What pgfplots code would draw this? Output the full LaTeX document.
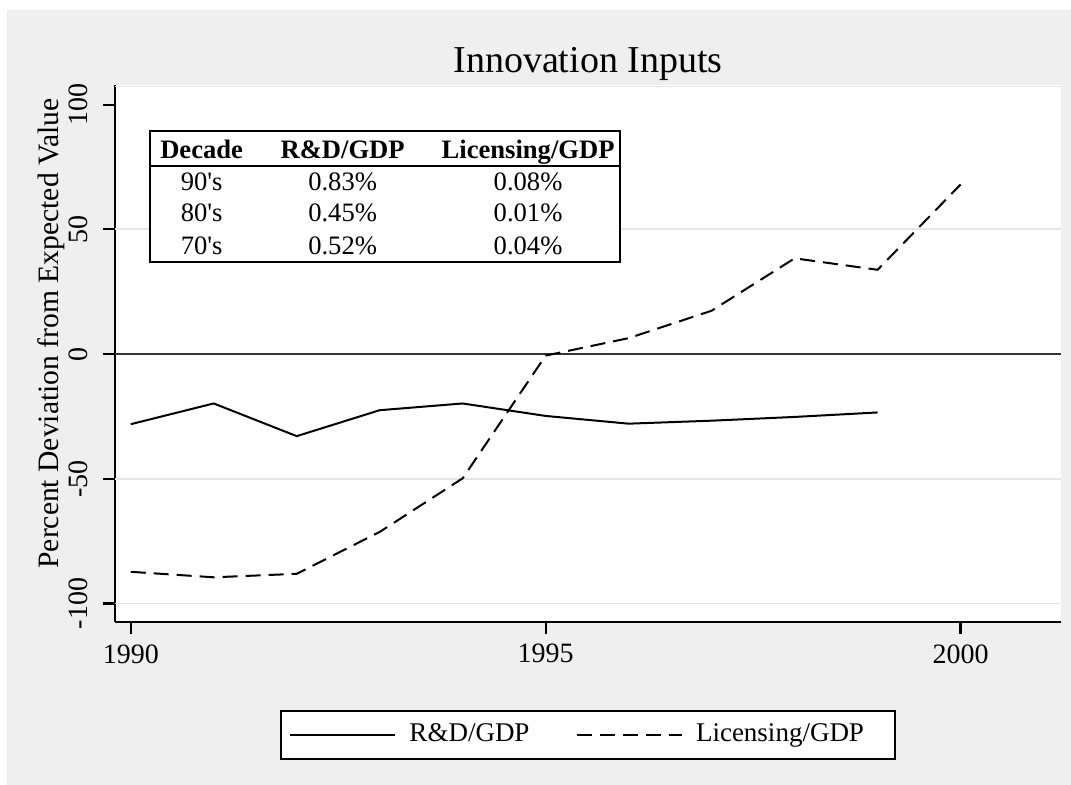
\documentclass[border=0pt]{standalone}
\usepackage{fontspec}
\setmainfont{Liberation Serif}
\usepackage{pgfplots}
\pgfplotsset{compat=1.18}
\definecolor{bggray}{HTML}{EFEFEF}
\definecolor{gridgray}{HTML}{E5E5E5}
\definecolor{zerogray}{HTML}{333333}
\begin{document}
\begin{tikzpicture}
\path[use as bounding box] (-57.5pt,-81.65pt) rectangle (478pt,310.85pt);
\fill[white] (-57.5pt,-81.65pt) rectangle (478pt,310.85pt);
\fill[bggray] (-54pt,-81.65pt) rectangle (478pt,305.85pt);
\begin{axis}[
  at={(0pt,0pt)}, anchor=south west,
  scale only axis, width=473pt, height=268.35pt,
  xmin=1989.81, xmax=2001.21, ymin=-107.3, ymax=107.9,
  axis x line*=bottom, axis y line*=left,
  axis line style={black, line width=1.1pt, -},
  axis background/.style={fill=white},
  xtick={1990,1995,2000}, xticklabels={1990,1995,2000},
  ytick={-100,-50,0,50,100}, yticklabels={-100,-50,0,50,100},
  tick align=outside, major tick length=6pt,
  tick style={black, line width=1.1pt},
  minor tick num=0,
  extra y ticks={-100,-50,50}, extra y tick labels={},
  extra y tick style={grid=major, major tick length=0pt},
  grid style={gridgray, line width=0.9pt},
  xticklabel style={font=\fontsize{14}{16}\selectfont, inner sep=0pt, anchor=north},
  yticklabel style={font=\fontsize{14}{16}\selectfont, inner sep=0pt, rotate=90, anchor=south},
  xticklabel shift=5.15pt, yticklabel shift=7.3pt,
  title={Innovation Inputs},
  title style={at={(axis description cs:0.5,1)}, anchor=base, yshift=0.3pt, font=\fontsize{19}{22}\selectfont, inner sep=0pt},
  ylabel={Percent Deviation from Expected Value},
  ylabel style={at={(axis description cs:-0.0595,0.537)}, anchor=base, font=\fontsize{14.8}{17}\selectfont, inner sep=0pt},
  legend image code/.code={\draw[#1] (0pt,0pt) -- (52.5pt,0pt);},
  legend columns=2,
  legend style={at={(axis description cs:0.5,0)}, anchor=north, yshift=-44.15pt,
    draw=black, line width=1.1pt, fill=white, inner xsep=4pt, inner ysep=5.7pt,
    font=\fontsize{13.5}{16}\selectfont,
    nodes={inner sep=0pt, text height=9.5pt, text depth=3pt},
    /tikz/every odd column/.style={column sep=6.75pt},
    /tikz/every even column/.style={column sep=23pt}},
]
\addplot[zerogray, line width=0.9pt, forget plot] coordinates {(1989.81,0) (2001.21,0)};
\addplot[black, line width=1pt, line join=round] coordinates {
(1990,-28.1) (1991,-19.8) (1992,-32.9) (1993,-22.5) (1994,-19.8)
(1995,-24.8) (1996,-27.9) (1997,-26.7) (1998,-25.2) (1999,-23.4)};
\addlegendentry{R\&D/GDP}
\addplot[black, line width=1pt, line join=round, dash pattern=on 7.5pt off 4pt] coordinates {
(1990,-87.3) (1991,-89.5) (1992,-88.1) (1993,-71.3) (1994,-49.8)
(1995,-0.6) (1996,6.4) (1997,17.4) (1998,38.4) (1999,33.8) (2000,68.0)};
\addlegendentry{Licensing/GDP\hspace*{11.5pt}}
\draw[gridgray, line width=0.8pt] (rel axis cs:0,0.997) -- (rel axis cs:1,0.997);
\fill[white] (axis cs:1990.234,89.41) rectangle (axis cs:1995.897,36.89);
\draw[line width=1.2pt] (axis cs:1990.234,89.41) rectangle (axis cs:1995.897,36.89);
\draw[line width=1.2pt] (axis cs:1990.234,75.38) -- (axis cs:1995.897,75.38);
\begin{scope}[every node/.style={anchor=base, inner sep=0pt, font=\fontsize{13.3}{15}\selectfont}]
\node at (axis cs:1990.854,78.47) {\bfseries Decade};
\node at (axis cs:1992.553,78.47) {\bfseries R\&D/GDP};
\node at (axis cs:1994.788,78.47) {\bfseries Licensing/GDP};
\node at (axis cs:1990.854,65.76) {90\textquotesingle s};
\node at (axis cs:1992.553,65.76) {0.83\%};
\node at (axis cs:1994.788,65.76) {0.08\%};
\node at (axis cs:1990.854,53.05) {80\textquotesingle s};
\node at (axis cs:1992.553,53.05) {0.45\%};
\node at (axis cs:1994.788,53.05) {0.01\%};
\node at (axis cs:1990.854,39.98) {70\textquotesingle s};
\node at (axis cs:1992.553,39.98) {0.52\%};
\node at (axis cs:1994.788,39.98) {0.04\%};
\end{scope}
\end{axis}
\end{tikzpicture}
\end{document}
